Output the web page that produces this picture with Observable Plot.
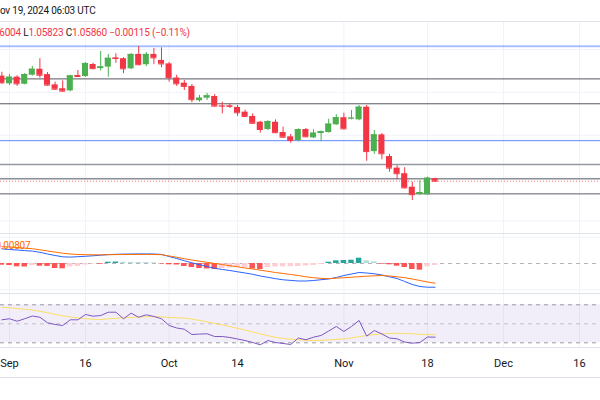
<!DOCTYPE html>
<html>
<head>
<meta charset="utf-8">
<script src="https://cdn.jsdelivr.net/npm/d3@7"></script>
<script src="https://cdn.jsdelivr.net/npm/@observablehq/plot@0.6"></script>
<style>
  html, body { margin: 0; padding: 0; background: #fff; }
  body { width: 600px; overflow: hidden; font-family: Roboto, "Noto Sans", sans-serif; color: #131722; }
  .pane { position: relative; overflow: hidden; }
  .pane svg { display: block; }
  #hdr { height: 21px; border-bottom: 1px solid #e0e3eb; }
  .txt { position: absolute; white-space: nowrap; font-size: 10px; letter-spacing: -0.2px; }
  .up { color: #F23645; }
  #macd { border-top: 1px solid #e0e3eb; }
  #rsi { border-top: 1px solid #e0e3eb; border-bottom: 1px solid #e0e3eb; }
</style>
</head>
<body>
<div id="hdr" class="pane"><span class="txt" id="t1" style="left:-7px; top:5px;"></span></div>
<div id="main" class="pane"><span class="txt" id="t2" style="left:-21px; top:5px;"></span></div>
<div id="macd" class="pane"><span class="txt" id="t3" style="left:-4.5px; top:6px; color:#FF6D00;"></span></div>
<div id="rsi" class="pane"></div>
<script>
// ---------- data ----------
const title = "Nov 19, 2024 06:03 UTC";
const legendParts = [["H", "1.06004"], ["L", "1.05823"], ["C", "1.05860"], ["", "\u22120.00115 (\u22120.11%)"]];
const macdLabel = "0.00807";

const dates = ["2024-08-30",
  "2024-09-02","2024-09-03","2024-09-04","2024-09-05","2024-09-06",
  "2024-09-09","2024-09-10","2024-09-11","2024-09-12","2024-09-13",
  "2024-09-16","2024-09-17","2024-09-18","2024-09-19","2024-09-20",
  "2024-09-23","2024-09-24","2024-09-25","2024-09-26","2024-09-27",
  "2024-09-30","2024-10-01","2024-10-02","2024-10-03","2024-10-04",
  "2024-10-07","2024-10-08","2024-10-09","2024-10-10","2024-10-11",
  "2024-10-14","2024-10-15","2024-10-16","2024-10-17","2024-10-18",
  "2024-10-21","2024-10-22","2024-10-23","2024-10-24","2024-10-25",
  "2024-10-28","2024-10-29","2024-10-30","2024-10-31","2024-11-01",
  "2024-11-04","2024-11-05","2024-11-06","2024-11-07","2024-11-08",
  "2024-11-11","2024-11-12","2024-11-13","2024-11-14","2024-11-15",
  "2024-11-18","2024-11-19"];

const opens  = [1.1076,1.1040,1.1071,1.1038,1.1080,1.1108,1.1083,1.1035,1.1017,1.1007,1.1079,1.1074,1.1130,1.1111,1.1118,1.1161,1.1157,1.1110,1.1177,1.1129,1.1177,1.1149,1.1133,1.1067,1.1043,1.1028,1.0961,1.0973,1.0981,1.0938,1.0938,1.0930,1.0908,1.0888,1.0861,1.0827,1.0861,1.0813,1.0793,1.0776,1.0827,1.0788,1.0808,1.0813,1.0849,1.0882,1.0877,1.0872,1.0931,1.0724,1.0802,1.0701,1.0647,1.0621,1.0558,1.0524,1.0523,1.05975];
const highs  = [1.1094,1.1083,1.1078,1.1088,1.1121,1.1157,1.1093,1.1048,1.1054,1.1080,1.1102,1.1138,1.1136,1.1191,1.1177,1.1180,1.1162,1.1181,1.1214,1.1186,1.1205,1.1208,1.1140,1.1080,1.1056,1.1037,1.0986,1.0996,1.0990,1.0954,1.0948,1.0939,1.0917,1.0900,1.0865,1.0868,1.0872,1.0838,1.0804,1.0830,1.0832,1.0826,1.0820,1.0875,1.0896,1.0903,1.0916,1.0939,1.0939,1.0822,1.0808,1.0711,1.0659,1.0649,1.0581,1.0589,1.0605,1.06004];
const lows   = [1.1037,1.1032,1.1028,1.1035,1.1076,1.1066,1.1030,1.1010,1.1000,1.1003,1.1070,1.1070,1.1105,1.1099,1.1071,1.1136,1.1087,1.1106,1.1125,1.1120,1.1129,1.1115,1.1048,1.1028,1.1009,1.0952,1.0954,1.0962,1.0932,1.0900,1.0925,1.0888,1.0884,1.0852,1.0810,1.0822,1.0808,1.0788,1.0763,1.0770,1.0790,1.0785,1.0770,1.0810,1.0846,1.0826,1.0872,1.0868,1.0679,1.0711,1.0686,1.0628,1.0593,1.0550,1.0496,1.0520,1.0520,1.05823];
const closes = [1.1045,1.1071,1.1040,1.1083,1.1108,1.1080,1.1034,1.1015,1.1006,1.1077,1.1074,1.1135,1.1111,1.1119,1.1159,1.1158,1.1110,1.1177,1.1129,1.1177,1.1161,1.1133,1.1069,1.1040,1.1028,1.0966,1.0973,1.0984,1.0936,1.0936,1.0935,1.0905,1.0888,1.0856,1.0827,1.0864,1.0812,1.0791,1.0776,1.0827,1.0793,1.0810,1.0817,1.0852,1.0882,1.0830,1.0880,1.0931,1.0724,1.0802,1.0714,1.0647,1.0621,1.0555,1.0523,1.0533,1.0600,1.05860];

// horizontal levels
const levelsTopBlue = [1.1215];
const levelsBlue = [1.0775];
const levelsDark = [1.1063, 1.0947, 1.0597];
const levelsMid = [1.0527];
const levelsGray = [1.0664];
const lastPrice = [1.05860];
const priceGrid = [1.04, 1.06, 1.08, 1.10, 1.12];

// MACD (12, 26, 9)
const macdLine = [0.00694,0.00665,0.00641,0.00613,0.00589,0.00532,0.00451,0.00380,0.00318,0.00304,0.00323,0.00342,0.00366,0.00394,0.00423,0.00437,0.00447,0.00451,0.00456,0.00456,0.00451,0.00432,0.00333,0.00238,0.00133,0.00033,-0.00057,-0.00143,-0.00228,-0.00285,-0.00333,-0.00394,-0.00451,-0.00513,-0.00594,-0.00656,-0.00722,-0.00774,-0.00803,-0.00831,-0.00831,-0.00808,-0.00770,-0.00736,-0.00665,-0.00570,-0.00499,-0.00428,-0.00451,-0.00489,-0.00546,-0.00632,-0.00713,-0.00855,-0.00998,-0.01093,-0.01126,-0.01126];
const signalLine = [0.00798,0.00784,0.00760,0.00727,0.00703,0.00651,0.00594,0.00542,0.00489,0.00451,0.00428,0.00418,0.00413,0.00413,0.00418,0.00423,0.00428,0.00428,0.00428,0.00428,0.00428,0.00418,0.00356,0.00295,0.00228,0.00166,0.00109,0.00057,0.00000,-0.00048,-0.00105,-0.00157,-0.00214,-0.00261,-0.00318,-0.00371,-0.00428,-0.00475,-0.00523,-0.00570,-0.00632,-0.00675,-0.00708,-0.00722,-0.00698,-0.00675,-0.00651,-0.00627,-0.00603,-0.00584,-0.00570,-0.00594,-0.00632,-0.00675,-0.00736,-0.00808,-0.00879,-0.00936];
const histogram = [-0.00081,-0.00095,-0.00157,-0.00166,-0.00095,-0.00128,-0.00138,-0.00238,-0.00252,-0.00157,-0.00143,-0.00071,-0.00024,-0.00033,0.00062,0.00071,0.00057,0.00052,0.00048,0.00043,0.00029,-0.00024,-0.00062,-0.00071,-0.00143,-0.00190,-0.00238,-0.00261,-0.00285,-0.00238,-0.00214,-0.00190,-0.00181,-0.00261,-0.00285,-0.00190,-0.00166,-0.00157,-0.00152,-0.00143,-0.00119,-0.00095,-0.00048,0.00062,0.00128,0.00143,0.00157,0.00252,0.00128,0.00081,-0.00033,-0.00062,-0.00128,-0.00190,-0.00285,-0.00318,-0.00157,-0.00095];

// RSI (14) and its moving average
const rsi = [54.2,55.3,52.7,55.3,58.2,56.9,51.1,49.3,48.2,54.2,54.2,59.8,58.0,58.7,62.2,62.2,55.3,61.2,56.9,59.5,57.7,55.3,48.2,45.6,44.3,38.7,39.2,39.5,36.6,36.6,35.6,34.0,32.4,30.3,27.9,32.4,30.3,29.3,28.2,35.0,33.2,35.9,37.7,42.4,47.2,41.9,47.2,53.5,37.0,42.9,39.3,35.0,34.2,30.8,29.6,30.3,36.1,35.9];
const rsiMA = [67.4,66.8,66.1,65.4,64.5,63.2,61.7,60.0,58.4,57.2,56.1,55.3,54.8,54.5,55.2,55.8,56.3,56.7,57.1,57.5,57.6,57.3,56.7,56.3,56.1,54.9,53.6,52.0,50.4,48.8,47.2,45.3,43.4,41.4,39.3,37.5,35.8,34.6,33.8,33.2,32.6,32.4,32.6,33.1,33.6,34.0,35.1,36.4,37.7,38.7,39.4,39.8,40.1,39.8,39.5,38.9,38.7,38.4];
const rsiBandOuter = [70, 30];
const rsiBandMid = [50];

// time-axis ticks
const tickDates = ["2024-09-02","2024-09-16","2024-10-01","2024-10-14","2024-11-01","2024-11-18","2024-12-02","2024-12-16"];
const tickLabels = ["Sep","16","Oct","14","Nov","18","Dec","16"];

// ---------- helpers ----------
// trading-day index (weekdays only) relative to 2024-09-02
function tIndex(s) {
  const base = new Date("2024-09-02T00:00:00Z");
  const d = new Date(s + "T00:00:00Z");
  const sign = d >= base ? 1 : -1;
  let a = sign > 0 ? new Date(base) : new Date(d);
  const b = sign > 0 ? d : base;
  let n = 0;
  while (a < b) { const wd = a.getUTCDay(); if (wd !== 0 && wd !== 6) n++; a.setUTCDate(a.getUTCDate() + 1); }
  return sign * n;
}

const candles = dates.map((d, k) => ({i: tIndex(d), open: opens[k], high: highs[k], low: lows[k], close: closes[k]}));
const ups = candles.filter(d => d.close >= d.open);
const downs = candles.filter(d => d.close < d.open);
const ticks = tickDates.map(tIndex);
const tickMap = new Map(ticks.map((t, k) => [t, tickLabels[k]]));

const macdData = dates.map((d, k) => ({i: tIndex(d), macd: macdLine[k], signal: signalLine[k], h: histogram[k], prev: k > 0 ? histogram[k - 1] : 0}));
const rsiData = dates.map((d, k) => ({i: tIndex(d), rsi: rsi[k], ma: rsiMA[k]}));

const GREEN = "#4CAF50", RED = "#F23645";
const GRID = "#f0f3fa";
const xDomain = [-1.184, 77.763];
const font = {fontFamily: "Roboto, 'Noto Sans', sans-serif", fontSize: "11px", color: "#131722", background: "#fff"};

function histColor(d) {
  if (d.h >= 0) return d.h > d.prev ? "#26A69A" : "#B2DFDB";
  return d.h < d.prev ? "#FF5252" : "#FFCDD2";
}

// ---------- header text ----------
document.getElementById("t1").textContent = title;
const t2 = document.getElementById("t2");
legendParts.forEach(([k, v], n) => {
  if (n > 0) t2.appendChild(document.createTextNode(" "));
  if (k) { const s = document.createElement("span"); s.textContent = k; t2.appendChild(s); }
  const s2 = document.createElement("span"); s2.className = "up"; s2.textContent = v; t2.appendChild(s2);
});
document.getElementById("t3").textContent = macdLabel;

// ---------- main price pane ----------
const main = Plot.plot({
  width: 600, height: 211, margin: 0,
  style: font,
  x: {domain: xDomain, axis: null},
  y: {domain: [1.03422, 1.13259], axis: null},
  marks: [
    Plot.gridX(ticks, {stroke: GRID, strokeOpacity: 1}),
    Plot.gridY(priceGrid, {stroke: GRID, strokeOpacity: 1}),
    Plot.ruleY(levelsTopBlue, {stroke: "#2962FF", strokeOpacity: 0.4, strokeWidth: 2}),
    Plot.ruleY(levelsBlue, {stroke: "#2962FF", strokeOpacity: 0.75, strokeWidth: 1}),
    Plot.ruleY(levelsDark, {stroke: "#434651", strokeOpacity: 0.9, strokeWidth: 1}),
    Plot.ruleY(levelsMid, {stroke: "#5d606b", strokeWidth: 1}),
    Plot.ruleY(levelsGray, {stroke: "#9598a1", strokeWidth: 1.5}),
    Plot.ruleY(lastPrice, {stroke: RED, strokeOpacity: 0.7, strokeDasharray: "1,2", strokeWidth: 1}),
    Plot.ruleX(ups, {x: "i", y1: "low", y2: "high", stroke: GREEN, strokeWidth: 1}),
    Plot.ruleX(downs, {x: "i", y1: "low", y2: "high", stroke: RED, strokeWidth: 1}),
    Plot.rect(ups, {x1: d => d.i - 0.4, x2: d => d.i + 0.4, y1: "open", y2: "close", fill: GREEN}),
    Plot.rect(downs, {x1: d => d.i - 0.4, x2: d => d.i + 0.4, y1: "open", y2: "close", fill: RED}),
    Plot.ruleY(ups, {x1: d => d.i - 0.4, x2: d => d.i + 0.4, y: "close", stroke: GREEN}),
    Plot.ruleY(downs, {x1: d => d.i - 0.4, x2: d => d.i + 0.4, y: "close", stroke: RED})
  ]
});
document.getElementById("main").prepend(main);

// ---------- MACD pane ----------
const macd = Plot.plot({
  width: 600, height: 59, margin: 0,
  style: font,
  x: {domain: xDomain, axis: null},
  y: {domain: [-0.01425, 0.013775], axis: null},
  color: {type: "identity"},
  marks: [
    Plot.gridX(ticks, {stroke: GRID, strokeOpacity: 1}),
    Plot.gridY([0.0125, -0.0125], {stroke: GRID, strokeOpacity: 1}),
    Plot.ruleY([0], {stroke: "#b2b5be", strokeDasharray: "4,4"}),
    Plot.rect(macdData, {x1: d => d.i - 0.36, x2: d => d.i + 0.36, y1: 0, y2: "h", fill: histColor}),
    Plot.line(macdData, {x: "i", y: "macd", stroke: "#2962FF", strokeWidth: 1}),
    Plot.line(macdData, {x: "i", y: "signal", stroke: "#FF6D00", strokeWidth: 1})
  ]
});
document.getElementById("macd").prepend(macd);

// ---------- RSI pane ----------
const rsiPlot = Plot.plot({
  width: 600, height: 83, marginTop: 0, marginLeft: 0, marginRight: 0, marginBottom: 30,
  style: font,
  x: {domain: xDomain, axis: null, label: null},
  y: {domain: [25.05, 80.84], axis: null},
  marks: [
    Plot.gridX(ticks, {stroke: GRID, strokeOpacity: 1}),
    Plot.rect([rsiBandOuter], {y1: d => d[0], y2: d => d[1], fill: "#7E57C2", fillOpacity: 0.1}),
    Plot.ruleY(rsiBandOuter, {stroke: "#787b86", strokeOpacity: 0.75, strokeDasharray: "4,4"}),
    Plot.ruleY(rsiBandMid, {stroke: "#787b86", strokeOpacity: 0.4, strokeDasharray: "4,4"}),
    Plot.line(rsiData, {x: "i", y: "ma", stroke: "#FDD835", strokeOpacity: 0.75, strokeWidth: 1}),
    Plot.line(rsiData, {x: "i", y: "rsi", stroke: "#7E57C2", strokeWidth: 1}),
    Plot.frame({anchor: "bottom", stroke: "#e0e3eb"}),
    Plot.axisX(ticks, {tickSize: 0, tickPadding: 12, label: null, tickFormat: d => tickMap.get(d), fontSize: 11, fill: "#131722"})
  ]
});
document.getElementById("rsi").prepend(rsiPlot);
</script>
</body>
</html>
